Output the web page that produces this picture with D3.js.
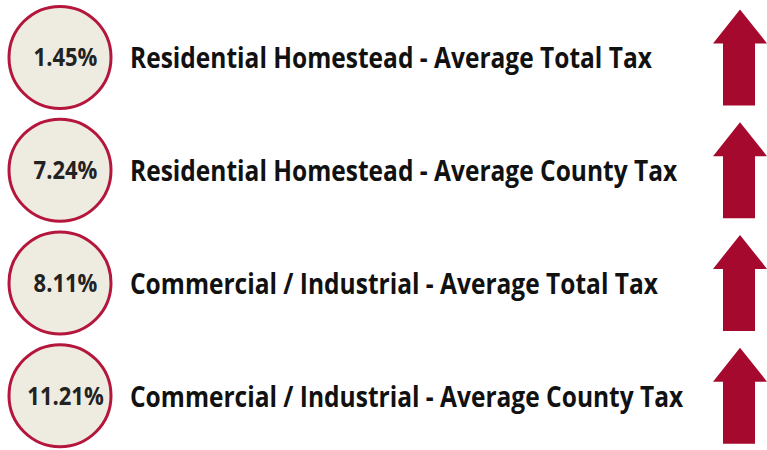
<!DOCTYPE html>
<html>
<head>
<meta charset="utf-8">
<script src="https://cdn.jsdelivr.net/npm/d3@7"></script>
<style>
  body { margin: 0; background: #fff; }
  svg { display: block; }
</style>
</head>
<body>
<svg id="chart"></svg>
<script>
// values
const labels = [
  'Residential Homestead - Average Total Tax',
  'Residential Homestead - Average County Tax',
  'Commercial / Industrial - Average Total Tax',
  'Commercial / Industrial - Average County Tax'
];
const changes = [1.45, 7.24, 8.11, 11.21];
const directions = ['up', 'up', 'up', 'up'];

const width = 767, height = 450;
const svg = d3.select('#chart').attr('width', width).attr('height', height);

const rows = labels.map((l, i) => ({ label: l, value: changes[i], dir: directions[i] }));

// one band per row
const y = d3.scaleBand()
  .domain(d3.range(rows.length))
  .range([1, 452])
  .paddingInner(0);

const fmt = d => d3.format('.2f')(d) + '%';

const g = svg.selectAll('g.row').data(rows).enter()
  .append('g')
  .attr('class', 'row')
  .attr('transform', (d, i) => `translate(0,${y(i) + y.bandwidth() / 2})`);

// badge
g.append('circle')
  .attr('cx', 60)
  .attr('cy', 0)
  .attr('r', 51)
  .attr('fill', '#eeebe1')
  .attr('stroke', '#b4163c')
  .attr('stroke-width', 3);

// narrow-ish bold text, squeezed a bit to look like the original
const sx = 0.88;
g.append('text')
  .attr('transform', `translate(65.5,9) scale(${sx},1)`)
  .attr('text-anchor', 'middle')
  .attr('font-family', 'Open Sans, sans-serif')
  .attr('font-weight', 700)
  .attr('font-size', 25)
  .attr('fill', '#222')
  .text(d => fmt(d.value));

// label
g.append('text')
  .attr('transform', `translate(130,11) scale(0.876,1)`)
  .attr('font-family', 'Open Sans, sans-serif')
  .attr('font-weight', 700)
  .attr('font-size', 28)
  .attr('fill', '#111')
  .text(d => d.label);

// arrow
const arrow = 'M0,-48 L27,-14 L15,-14 L15,48 L-17,48 L-17,-14 L-27,-14 Z';
g.append('path')
  .attr('d', arrow)
  .attr('transform', d => `translate(740,0) rotate(${d.dir === 'up' ? 0 : 180})`)
  .attr('fill', '#a50a2e');
</script>
</body>
</html>
